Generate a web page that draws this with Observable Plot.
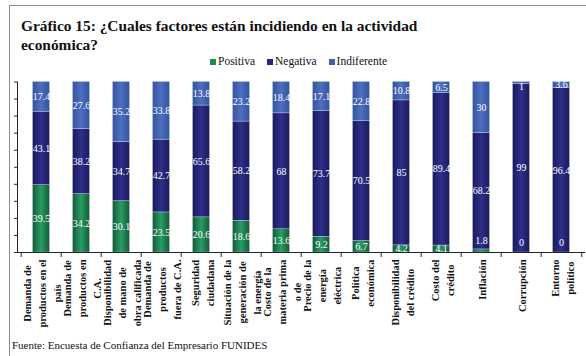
<!DOCTYPE html>
<html>
<head>
<meta charset="utf-8">
<script src="https://cdn.jsdelivr.net/npm/d3@7"></script>
<script src="https://cdn.jsdelivr.net/npm/@observablehq/plot@0.6"></script>
<style>
  html, body { margin: 0; padding: 0; background: #fff; }
  #wrap { position: relative; width: 586px; height: 356px; overflow: hidden; background: #fff; }
  #frame { position: absolute; left: 9px; top: 5px; width: 700px; height: 500px;
           border-left: 1.5px solid #8c8c8c; border-top: 1.5px solid #8c8c8c; }
  #title { position: absolute; left: 21px; top: 16px; font: bold 15.4px "Liberation Serif", serif; line-height: 19px; color: #111; white-space: nowrap; }
  #legend { position: absolute; left: 210px; top: 55px; font: 11.5px "Liberation Serif", serif; line-height: 13px; color: #111; white-space: nowrap; }
  #legend .item { display: inline-block; margin-right: 12px; }
  #legend .sw { display: inline-block; width: 6px; height: 6px; margin-right: 2px; vertical-align: baseline; }
  #chart { position: absolute; left: 0; top: 74px; }
  #foot { position: absolute; left: 12px; top: 339px; font: 11px "Liberation Serif", serif; line-height: 13px; color: #111; white-space: nowrap; }
</style>
</head>
<body>
<div id="wrap">
  <div id="frame"></div>
  <div id="title">Gráfico 15: ¿Cuales factores están incidiendo en la actividad<br>económica?</div>
  <div id="legend"></div>
  <div id="chart"></div>
  <div id="foot">Fuente: Encuesta de Confianza del Empresario FUNIDES</div>
</div>
<script>
const categories = [
  "Demanda de productos en el país",
  "Demanda de productos en C.A.",
  "Disponibilidad de mano de obra calificada",
  "Demanda de productos fuera de C.A.",
  "Seguridad ciudadana",
  "Situación de la generación de la energía",
  "Costo de la materia prima o de",
  "Precio de la energía eléctrica",
  "Política económica",
  "Disponibilidad del crédito",
  "Costo del crédito",
  "Inflación",
  "Corrupción",
  "Entorno político"
];
const tickLabels = [
  "Demanda de\nproductos en el\npaís",
  "Demanda de\nproductos en\nC.A.",
  "Disponibilidad\nde mano de\nobra calificada",
  "Demanda de\nproductos\nfuera de C.A.",
  "Seguridad\nciudadana",
  "Situación de la\ngeneración de\nla energía",
  "Costo de la\nmateria prima\no de",
  "Precio de la\nenergía\neléctrica",
  "Política\neconómica",
  "Disponibilidad\ndel crédito",
  "Costo del\ncrédito",
  "Inflación",
  "Corrupción",
  "Entorno\npolítico"
];
const series = ["Positiva", "Negativa", "Indiferente"];
const positiva    = [39.5, 34.2, 30.1, 23.5, 20.6, 18.6, 13.6, 9.2, 6.7, 4.2, 4.1, 1.8, 0, 0];
const negativa    = [43.1, 38.2, 34.7, 42.7, 65.6, 58.2, 68, 73.7, 70.5, 85, 89.4, 68.2, 99, 96.4];
const indiferente = [17.4, 27.6, 35.2, 33.8, 13.8, 23.2, 18.4, 17.1, 22.8, 10.8, 6.5, 30, 1, 3.6];
const yTicks = [0, 10, 20, 30, 40, 50, 60, 70, 80, 90, 100];

const seriesColors = { Positiva: "#1f8a55", Negativa: "#26277c", Indiferente: "#4262b0" };
const gradients = [
  ["gPos", "#145a38", "#2a9c64"],
  ["gNeg", "#1b1b58", "#2d2f8c"],
  ["gInd", "#34539c", "#4d70bf"]
];

const rows = [];
categories.forEach((c, i) => {
  rows.push({ cat: c, series: "Positiva", value: positiva[i] });
  rows.push({ cat: c, series: "Negativa", value: negativa[i] });
  rows.push({ cat: c, series: "Indiferente", value: indiferente[i] });
});

const legend = d3.select("#legend");
series.forEach(s => {
  const it = legend.append("span").attr("class", "item");
  it.append("span").attr("class", "sw").style("background", seriesColors[s]);
  it.append("span").text(s);
});

const W = 586, H = 262, mL = 17, mR = 1, mT = 7.5, mB = 84;
const step = (W - mL - mR) / categories.length;
const inset = (step - 17.5) / 2;

const labelFont = "bold 10.5px 'Liberation Serif'";
const ctx = document.createElement("canvas").getContext("2d");
ctx.font = labelFont;

const labelMarks = categories.map((c, i) => {
  const L = d3.max(tickLabels[i].split("\n"), s => ctx.measureText(s).width);
  return Plot.text([c], {
    x: d => d, frameAnchor: "bottom", text: () => tickLabels[i],
    rotate: -90, textAnchor: "middle", lineAnchor: "middle", lineHeight: 1.43,
    dy: 7 + L / 2, fontSize: 10.5, fontWeight: "bold", fontFamily: "Liberation Serif", fill: "#111"
  });
});

const fmt = v => String(v);
const smallBottom = d => d.series === "Positiva" && d.value < 3;
const smallTop = d => d.series === "Indiferente" && d.value < 2;
const normal = d => !smallBottom(d) && !smallTop(d);
const textStyle = { fill: "white", fontSize: 10, fontFamily: "Liberation Serif" };

const chart = Plot.plot({
  width: W, height: H,
  marginLeft: mL, marginRight: mR, marginTop: mT, marginBottom: mB,
  x: { domain: categories, padding: 0 },
  y: { domain: [0, 100] },
  color: { domain: series, range: gradients.map(g => `url(#${g[0]})`) },
  style: { fontFamily: "Liberation Serif", background: "transparent", overflow: "visible" },
  marks: [
    Plot.barY(rows, { x: "cat", y: "value", fill: "series", insetLeft: inset, insetRight: inset,
      stroke: "#c9cfe8", strokeWidth: 0.4 }),
    Plot.text(rows, Plot.stackY({ x: "cat", y: "value", text: d => normal(d) ? fmt(d.value) : "", ...textStyle })),
    Plot.text(rows, Plot.stackY({ x: "cat", y: "value", text: d => smallBottom(d) ? fmt(d.value) : "", dy: -10, ...textStyle })),
    Plot.text(rows, Plot.stackY({ x: "cat", y: "value", text: d => smallTop(d) ? fmt(d.value) : "", dy: 4, ...textStyle })),
    Plot.ruleY([0], { stroke: "#222", strokeWidth: 1 }),
    Plot.frame({ anchor: "left", stroke: "#222", strokeWidth: 1 }),
    Plot.axisY({ ticks: yTicks, tickSize: 3, tickFormat: () => "", label: null, stroke: "#222" }),
    Plot.axisX({ tickSize: 5, tickFormat: () => "", label: null, dx: -step / 2, stroke: "#222" }),
    Plot.axisX({ ticks: [categories[categories.length - 1]], tickSize: 5, tickFormat: () => "", label: null, dx: step / 2, stroke: "#222" }),
    ...labelMarks
  ]
});

const defs = d3.select(chart).insert("defs", ":first-child");
gradients.forEach(([id, edge, mid]) => {
  const g = defs.append("linearGradient").attr("id", id)
    .attr("x1", 0).attr("x2", 1).attr("y1", 0).attr("y2", 0);
  g.append("stop").attr("offset", "0%").attr("stop-color", edge);
  g.append("stop").attr("offset", "50%").attr("stop-color", mid);
  g.append("stop").attr("offset", "100%").attr("stop-color", edge);
});

document.getElementById("chart").appendChild(chart);
</script>
</body>
</html>
